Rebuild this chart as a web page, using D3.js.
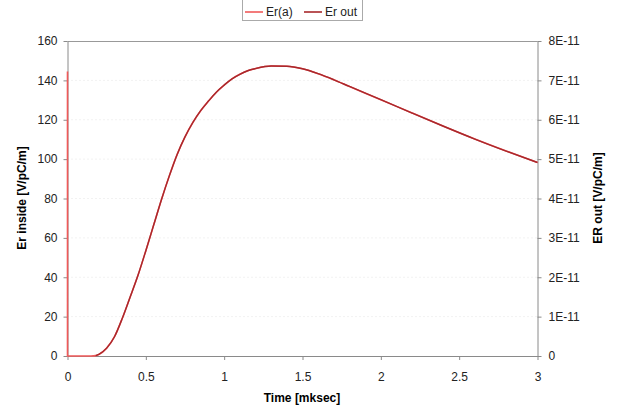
<!DOCTYPE html>
<html><head><meta charset="utf-8">
<script src="https://cdn.jsdelivr.net/npm/d3@7"></script>
<style>body{margin:0;background:#fff}svg{display:block;font-family:"Liberation Sans",Arial,sans-serif}</style>
</head><body><svg id="c" width="618" height="412"></svg>
<script>
// Data
const time    = [0, 0.0001, 0.05, 0.1, 0.15, 0.18, 0.2, 0.25, 0.3, 0.35, 0.4, 0.45, 0.5, 0.55, 0.6, 0.65, 0.7, 0.75, 0.8, 0.85, 0.9, 0.95, 1.0, 1.05, 1.1, 1.15, 1.2, 1.3, 1.4, 1.5, 1.6, 1.7, 1.8, 2.0, 2.2, 2.4, 2.6, 2.8, 3.0];
const erA     = [144.5, 0, 0, 0, 0, 0.2, 0.8, 4, 9.8, 19.2, 30, 41, 53.5, 66.5, 79.5, 91.5, 102.4, 111.3, 118.6, 124.6, 129.5, 134, 137.6, 140.8, 143.1, 144.9, 146, 147.3, 147.2, 145.9, 143.4, 140.3, 136.9, 130.2, 123.4, 116.7, 110.2, 104.1, 98.3];
const timeOut = [0.18, 0.2, 0.25, 0.3, 0.35, 0.4, 0.45, 0.5, 0.55, 0.6, 0.65, 0.7, 0.75, 0.8, 0.85, 0.9, 0.95, 1.0, 1.05, 1.1, 1.15, 1.2, 1.3, 1.4, 1.5, 1.6, 1.7, 1.8, 2.0, 2.2, 2.4, 2.6, 2.8, 3.0];
const erOut   = [1e-13, 4e-13, 2e-12, 4.9e-12, 9.6e-12, 1.5e-11, 2.05e-11, 2.675e-11, 3.325e-11, 3.975e-11, 4.575e-11, 5.12e-11, 5.565e-11, 5.93e-11, 6.23e-11, 6.475e-11, 6.7e-11, 6.88e-11, 7.04e-11, 7.155e-11, 7.245e-11, 7.3e-11, 7.365e-11, 7.36e-11, 7.295e-11, 7.17e-11, 7.015e-11, 6.845e-11, 6.51e-11, 6.17e-11, 5.835e-11, 5.51e-11, 5.205e-11, 4.915e-11];
const xTicks  = [0, 0.5, 1, 1.5, 2, 2.5, 3];
const xTickLabels = ["0", "0.5", "1", "1.5", "2", "2.5", "3"];
const yLeftTicks = [0, 20, 40, 60, 80, 100, 120, 140, 160];
const yRightTicks = [0, 1e-11, 2e-11, 3e-11, 4e-11, 5e-11, 6e-11, 7e-11, 8e-11];
const yRightLabels = ["0", "1E-11", "2E-11", "3E-11", "4E-11", "5E-11", "6E-11", "7E-11", "8E-11"];
const seriesNames = ["Er(a)", "Er out"];
const seriesColors = ["#f05a5a", "#a8282c"];

const svg = d3.select("#c");
const L = 67.5, R = 537.5, T = 41, B = 356;
const x = d3.scaleLinear().domain([0, 3]).range([L, R]);
const yL = d3.scaleLinear().domain([0, 160]).range([B, T]);
const yR = d3.scaleLinear().domain([0, 8e-11]).range([B, T]);

// gridlines
svg.append("g").selectAll("line").data(yLeftTicks.slice(1, -1)).join("line")
  .attr("x1", L).attr("x2", R).attr("y1", d => yL(d)).attr("y2", d => yL(d))
  .attr("stroke", "#e4e4e4").attr("stroke-width", 1).attr("stroke-dasharray", "1,3");

// plot border top
svg.append("line").attr("x1", L).attr("x2", R).attr("y1", T + 0.5).attr("y2", T + 0.5).attr("stroke", "#999");

const axisStyle = g => {
  g.select(".domain").attr("stroke", "#8a8a8a");
  g.selectAll(".tick line").attr("stroke", "#8a8a8a");
  g.selectAll("text").attr("fill", "#222").style("font-size", "12px");
};

svg.append("g").attr("transform", `translate(0,${B})`)
  .call(d3.axisBottom(x).tickValues(xTicks).tickFormat((d, i) => xTickLabels[i]).tickSizeInner(4).tickSizeOuter(0).tickPadding(12))
  .call(axisStyle);
svg.append("g").attr("transform", `translate(${L},0)`)
  .call(d3.axisLeft(yL).tickValues(yLeftTicks).tickSizeInner(4).tickSizeOuter(0).tickPadding(6))
  .call(axisStyle);
svg.append("g").attr("transform", `translate(${R},0)`)
  .call(d3.axisRight(yR).tickValues(yRightTicks).tickFormat((d, i) => yRightLabels[i]).tickSizeInner(4).tickSizeOuter(0).tickPadding(7))
  .call(axisStyle);

// lines
const lineA = d3.line().x((d, i) => x(time[i])).y(d => yL(d)).curve(d3.curveMonotoneX);
const lineO = d3.line().x((d, i) => x(timeOut[i])).y(d => yR(d)).curve(d3.curveMonotoneX);
svg.append("path").attr("d", lineA(erA)).attr("fill", "none").attr("stroke", seriesColors[0]).attr("stroke-width", 1.6);
svg.append("path").attr("d", lineO(erOut)).attr("fill", "none").attr("stroke", seriesColors[1]).attr("stroke-width", 1.4);

// axis titles
svg.append("text").attr("x", 302).attr("y", 402).attr("text-anchor", "middle")
  .style("font-size", "12px").style("font-weight", "bold").text("Time [mksec]");
svg.append("text").attr("transform", "translate(26,198) rotate(-90)").attr("text-anchor", "middle")
  .style("font-size", "12px").style("font-weight", "bold").text("Er inside [V/pC/m]");
svg.append("text").attr("transform", "translate(602,198) rotate(-90)").attr("text-anchor", "middle")
  .style("font-size", "12px").style("font-weight", "bold").text("ER out [V/pC/m]");

// legend
const lg = svg.append("g");
lg.append("rect").attr("x", 242.5).attr("y", -5).attr("width", 120).attr("height", 25.5)
  .attr("fill", "#fff").attr("stroke", "#aaa");
const lx = [245, 304];
seriesNames.forEach((n, i) => {
  lg.append("line").attr("x1", lx[i]).attr("x2", lx[i] + 18).attr("y1", 12).attr("y2", 12)
    .attr("stroke", seriesColors[i]).attr("stroke-width", 1.6);
  lg.append("text").attr("x", lx[i] + 21).attr("y", 16).style("font-size", "12px").attr("fill", "#222").text(n);
});
</script></body></html>
